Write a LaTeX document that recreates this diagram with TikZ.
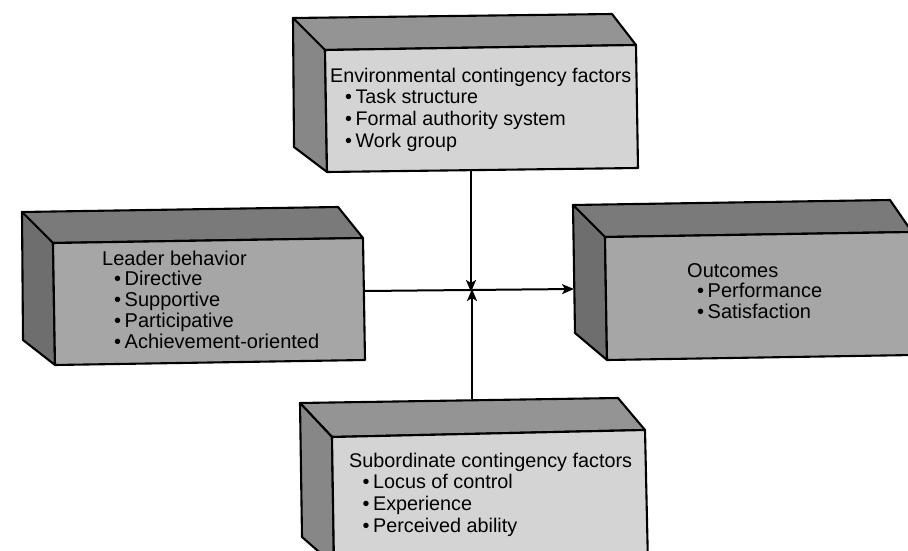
\documentclass[tikz,border=0pt]{standalone}
\usepackage{fontspec}
\setmainfont{Liberation Sans}
\usetikzlibrary{arrows.meta}

% small bullet with a given left indent
\newcommand\itemdot[1]{\hspace*{#1}•\hspace{3.5pt}}

\tikzset{
  outline/.style={draw=black, line width=2.1pt, line join=round},
  paleface/.style={outline, fill=black!17},
  palelid/.style={outline, fill=black!42},
  paleside/.style={outline, fill=black!47},
  darkface/.style={outline, fill=black!35},
  darklid/.style={outline, fill=black!52},
  darkside/.style={outline, fill=black!57},
  label/.style={inner sep=0pt, anchor=base west, text=black},
  conn/.style={line width=2pt, draw=black},
  tip/.style={-{Stealth[length=12pt, width=10pt, inset=3pt]}},
}

\begin{document}
\begin{tikzpicture}[x=1pt, y=-1pt]
  \useasboundingbox (0,0) rectangle (908,551);
  \clip (0,0) rectangle (908,551);

  % ---- Environmental contingency factors (top)
  \path[palelid]  (293,18) -- (612,14) -- (636,45) -- (325,50) -- cycle;
  \path[paleside] (293,18) -- (325,50) -- (327,172) -- (294,147) -- cycle;
  \path[paleface] (325,50) -- (636,45) -- (638,168) -- (327,172) -- cycle;
  \node[label, font=\fontsize{19.7}{21.7}\selectfont] (env) at (330,82)
    {\begin{tabular}[t]{@{}l@{}}
      Environmental contingency factors\\
      \itemdot{15pt}Task structure\\
      \itemdot{15pt}Formal authority system\\
      \itemdot{15pt}Work group
    \end{tabular}};

  % ---- Leader behavior (left)
  \path[darklid]  (22,212) -- (338,207) -- (363,238) -- (53,243) -- cycle;
  \path[darkside] (22,212) -- (53,243) -- (55,365) -- (23,340) -- cycle;
  \path[darkface] (53,243) -- (363,238) -- (365,360) -- (55,365) -- cycle;
  \node[label, font=\fontsize{20}{20.8}\selectfont] (lead) at (102,265)
    {\begin{tabular}[t]{@{}l@{}}
      Leader behavior\\
      \itemdot{12pt}Directive\\
      \itemdot{12pt}Supportive\\
      \itemdot{12pt}Participative\\
      \itemdot{12pt}Achievement-oriented
    \end{tabular}};

  % ---- Outcomes (right)
  \path[darklid]  (573,205) -- (890,200) -- (912,232) -- (605,237) -- cycle;
  \path[darkside] (573,205) -- (605,237) -- (607,360) -- (575,333) -- cycle;
  \path[darkface] (605,237) -- (912,232) -- (914,355) -- (607,360) -- cycle;
  \node[label, font=\fontsize{20}{20.6}\selectfont] (outc) at (687,277)
    {\begin{tabular}[t]{@{}l@{}}
      Outcomes\\
      \itemdot{10pt}Performance\\
      \itemdot{10pt}Satisfaction
    \end{tabular}};

  % ---- Subordinate contingency factors (bottom)
  \path[palelid]  (300,403) -- (618,398) -- (645,430) -- (332,437) -- cycle;
  \path[paleside] (300,403) -- (332,437) -- (334,565) -- (302,537) -- cycle;
  \path[paleface] (332,437) -- (645,430) -- (648,565) -- (334,565) -- cycle;
  \node[label, font=\fontsize{19.8}{21.7}\selectfont] (sub) at (349,467)
    {\begin{tabular}[t]{@{}l@{}}
      Subordinate contingency factors\\
      \itemdot{13.5pt}Locus of control\\
      \itemdot{13.5pt}Experience\\
      \itemdot{13.5pt}Perceived ability
    \end{tabular}};

  % ---- connector end points on the box edges
  \coordinate (envB)  at (471,170);
  \coordinate (subT)  at (472,399);
  \coordinate (leadR) at (365,291);
  \coordinate (outL)  at (574,289);
  \coordinate (hub)   at (471.5,290.5);

  % ---- connectors
  \draw[conn, tip] (leadR) -- (outL);
  \draw[conn, tip] (envB) -- ([yshift=-1.5pt]envB |- hub);
  \draw[conn, tip] (subT) -- ([yshift=1.5pt]subT |- hub);
\end{tikzpicture}
\end{document}
